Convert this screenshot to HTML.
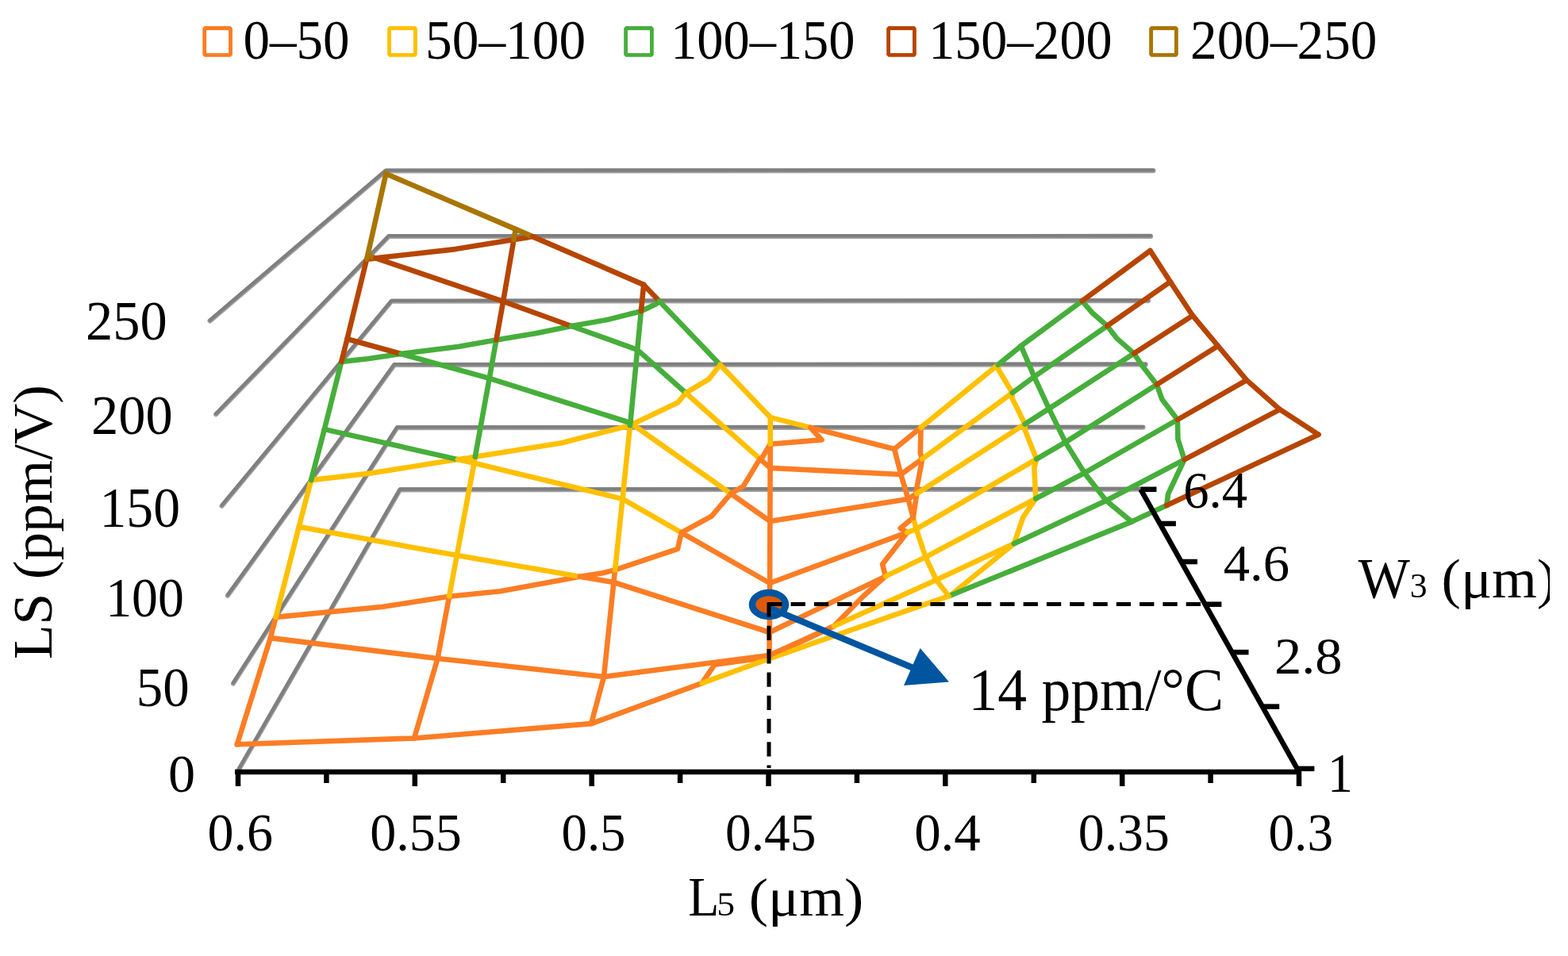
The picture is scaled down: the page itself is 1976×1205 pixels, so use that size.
<!DOCTYPE html>
<html><head><meta charset="utf-8"><title>LS surface</title>
<style>html,body{margin:0;padding:0;background:#fff;width:1976px;height:1205px;overflow:hidden}svg{display:block}</style>
</head><body>
<svg width="1976" height="1205" viewBox="0 0 1976 1205">
<defs><clipPath id="clipW"><rect x="1700" y="650" width="253" height="150"/></clipPath></defs>
<g fill="none" stroke="#A2A2A2" stroke-width="6" stroke-linecap="round" stroke-linejoin="round">
<polyline points="300.9,970.2 504.0,617.4 1437.5,616.8"/>
<polyline points="293.9,861.6 500.5,539.2 1440.6,538.7"/>
<polyline points="286.8,750.9 497.0,460.0 1443.8,459.6"/>
<polyline points="279.5,637.8 493.5,379.7 1447.0,379.3"/>
<polyline points="272.1,522.4 489.9,298.1 1450.2,297.9"/>
<polyline points="264.5,404.6 486.2,215.5 1453.5,215.2"/>
</g>
<g fill="none" stroke="#7F7F7F" stroke-width="4.3" stroke-linecap="round" stroke-linejoin="round" transform="translate(0,-0.9)">
<polyline points="300.9,970.2 504.0,617.4 1437.5,616.8"/>
<polyline points="293.9,861.6 500.5,539.2 1440.6,538.7"/>
<polyline points="286.8,750.9 497.0,460.0 1443.8,459.6"/>
<polyline points="279.5,637.8 493.5,379.7 1447.0,379.3"/>
<polyline points="272.1,522.4 489.9,298.1 1450.2,297.9"/>
<polyline points="264.5,404.6 486.2,215.5 1453.5,215.2"/>
</g>
<g fill="none" stroke-width="6.6" stroke-linecap="round" stroke-linejoin="round">
<polyline points="1021.2,539.0 1035.6,554.4 970.7,559.7 961.0,576.0 957.6,578.4 936.5,613.2 921.0,622.2 896.7,650.6 858.7,671.3 854.0,691.9 775.0,718.4 759.7,722.3 730.9,726.7 630.5,745.2 566.1,751.7 482.8,764.8 347.6,777.9" stroke="#FC7D24"/>
<polyline points="884.5,861.1 900.7,837.7 969.0,828.3 1050.8,789.2 1088.2,751.2 1116.0,726.4 1112.0,711.2 1143.2,671.1 1134.7,665.8 1150.8,652.6 1155.3,622.1 1154.5,619.3 1162.3,578.3 1159.8,571.8 1160.5,538.9" stroke="#FC7D24"/>
<polyline points="907.5,459.8 893.3,477.9 864.2,495.3 854.5,507.3 796.9,534.8 796.3,535.3 794.0,536.3 706.7,558.5 598.8,575.8 590.8,577.3 576.9,579.1 467.0,596.5 392.1,605.1" stroke="#FFC000"/>
<polyline points="1198.4,750.2 1199.7,748.8 1277.9,685.2 1289.3,651.9 1305.3,628.5 1303.3,589.8 1306.2,578.7 1291.8,542.4 1291.6,534.5 1275.5,501.9 1275.8,495.1 1258.5,466.2 1257.7,459.6" stroke="#FFC000"/>
<polyline points="830.8,379.5 827.6,382.7 807.9,392.2 765.0,403.1 720.0,410.9 676.1,420.1 625.4,428.4 577.1,436.9 505.4,446.0 463.1,452.3 430.3,455.9" stroke="#46AE3B"/>
<polyline points="1470.2,637.0 1472.1,622.7 1492.5,579.3 1484.4,553.5 1483.9,529.0 1464.3,503.2 1457.8,484.8 1439.4,461.0 1429.1,445.6 1407.0,426.1 1395.3,410.7 1377.0,394.8 1363.6,379.3" stroke="#46AE3B"/>
<polyline points="671.0,298.1 661.1,300.1 647.5,302.0 573.7,314.1 473.4,325.4 467.5,326.2 462.1,326.7" stroke="#B64500"/>
<polyline points="298.8,938.3 522.0,930.5 745.1,912.1 884.5,861.1" stroke="#FC7D24"/>
<polyline points="884.5,861.1 968.8,830.3 1195.6,751.3 1198.4,750.2" stroke="#FFC000"/>
<polyline points="1198.4,750.2 1426.2,657.6 1470.2,637.0" stroke="#46AE3B"/>
<polyline points="1470.2,637.0 1661.5,547.7" stroke="#B64500"/>
<polyline points="340.8,804.1 551.5,830.0 761.0,853.0 969.4,825.9 1050.9,789.2" stroke="#FC7D24"/>
<polyline points="1050.9,789.2 1179.9,731.0 1277.9,685.2" stroke="#FFC000"/>
<polyline points="1277.9,685.2 1394.0,631.0 1492.5,579.3" stroke="#46AE3B"/>
<polyline points="1492.5,579.3 1612.8,516.1" stroke="#B64500"/>
<polyline points="376.7,664.1 575.8,700.0 730.8,726.7" stroke="#FFC000"/>
<polyline points="730.8,726.7 773.4,734.0 969.8,797.0 1116.0,726.4" stroke="#FC7D24"/>
<polyline points="1116.0,726.4 1166.4,702.1 1305.3,628.5" stroke="#FFC000"/>
<polyline points="1305.3,628.5 1366.6,596.1 1483.9,529.0" stroke="#46AE3B"/>
<polyline points="1483.9,529.0 1571.0,479.1" stroke="#B64500"/>
<polyline points="408.8,541.1 576.9,579.1" stroke="#46AE3B"/>
<polyline points="576.9,579.1 597.4,583.8 784.5,628.9 858.7,671.3" stroke="#FFC000"/>
<polyline points="858.7,671.3 970.1,735.0 1143.2,671.1" stroke="#FC7D24"/>
<polyline points="1143.2,671.1 1154.7,666.9 1306.2,578.7" stroke="#FFC000"/>
<polyline points="1306.2,578.7 1342.7,557.4 1457.8,484.8" stroke="#46AE3B"/>
<polyline points="1457.8,484.8 1534.9,436.0" stroke="#B64500"/>
<polyline points="437.5,427.2 505.4,446.0" stroke="#B64500"/>
<polyline points="505.4,446.0 616.7,476.9 794.4,533.0 796.9,534.8" stroke="#46AE3B"/>
<polyline points="796.9,534.8 921.0,622.2" stroke="#FFC000"/>
<polyline points="921.0,622.2 970.4,657.0 1144.5,629.0 1155.3,622.1" stroke="#FC7D24"/>
<polyline points="1155.3,622.1 1291.6,534.5" stroke="#FFC000"/>
<polyline points="1291.6,534.5 1321.9,515.1 1429.1,445.6" stroke="#46AE3B"/>
<polyline points="1429.1,445.6 1502.9,397.7" stroke="#B64500"/>
<polyline points="463.3,321.9 473.5,325.3" stroke="#A87500"/>
<polyline points="473.5,325.3 634.1,379.9 720.0,411.0" stroke="#B64500"/>
<polyline points="720.0,411.0 803.2,440.9 864.2,495.3" stroke="#46AE3B"/>
<polyline points="864.2,495.3 957.6,578.4" stroke="#FFC000"/>
<polyline points="957.6,578.4 970.6,589.9 1135.3,598.0 1162.3,578.3" stroke="#FC7D24"/>
<polyline points="1162.3,578.3 1275.8,495.1" stroke="#FFC000"/>
<polyline points="1275.8,495.1 1303.3,474.9 1395.3,410.7" stroke="#46AE3B"/>
<polyline points="1395.3,410.7 1474.8,355.1" stroke="#B64500"/>
<polyline points="486.4,219.0 649.8,288.9 671.0,298.1" stroke="#A87500"/>
<polyline points="671.0,298.1 811.2,358.9 830.8,379.5" stroke="#B64500"/>
<polyline points="830.8,379.5 907.5,459.8" stroke="#46AE3B"/>
<polyline points="907.5,459.8 970.8,526.1 1021.2,538.9" stroke="#FFC000"/>
<polyline points="1021.2,538.9 1127.1,566.0 1160.5,538.9" stroke="#FC7D24"/>
<polyline points="1160.5,538.9 1257.7,459.7" stroke="#FFC000"/>
<polyline points="1257.7,459.7 1286.7,436.0 1363.6,379.3" stroke="#46AE3B"/>
<polyline points="1363.6,379.3 1449.5,316.0" stroke="#B64500"/>
<polyline points="298.8,938.3 340.8,804.1 347.6,777.9" stroke="#FC7D24"/>
<polyline points="347.6,777.9 376.7,664.1 392.1,605.1" stroke="#FFC000"/>
<polyline points="392.1,605.1 408.8,541.1 430.3,455.9" stroke="#46AE3B"/>
<polyline points="430.3,455.9 437.5,427.2 462.1,326.7" stroke="#B64500"/>
<polyline points="462.1,326.7 463.3,321.9 486.4,219.0" stroke="#A87500"/>
<polyline points="522.0,930.5 551.5,830.0 566.1,751.7" stroke="#FC7D24"/>
<polyline points="566.1,751.7 575.8,700.0 597.4,583.8 598.8,575.8" stroke="#FFC000"/>
<polyline points="598.8,575.8 616.7,476.9 625.4,428.4" stroke="#46AE3B"/>
<polyline points="625.4,428.4 634.1,379.9 647.5,302.0" stroke="#B64500"/>
<polyline points="647.5,302.0 649.8,288.9" stroke="#A87500"/>
<polyline points="745.1,912.1 761.0,853.0 773.4,734.0 775.1,718.4" stroke="#FC7D24"/>
<polyline points="775.1,718.4 784.5,628.9 794.0,536.3" stroke="#FFC000"/>
<polyline points="794.0,536.3 794.4,533.0 803.2,440.9 807.9,392.2" stroke="#46AE3B"/>
<polyline points="807.9,392.2 811.2,358.9" stroke="#B64500"/>
<polyline points="968.8,830.3 969.1,828.3" stroke="#FFC000"/>
<polyline points="969.1,828.3 969.4,825.9 969.8,797.0 970.1,735.0 970.4,657.0 970.6,589.9 970.7,559.7" stroke="#FC7D24"/>
<polyline points="970.7,559.7 970.8,526.1" stroke="#FFC000"/>
<polyline points="1195.6,751.3 1179.9,731.0 1166.4,702.1 1154.7,666.9 1150.8,652.6" stroke="#FFC000"/>
<polyline points="1150.8,652.6 1144.5,629.0 1135.3,598.0 1127.1,566.0" stroke="#FC7D24"/>
<polyline points="1426.2,657.6 1394.0,631.0 1366.6,596.1 1342.7,557.4 1321.9,515.1 1303.3,474.9 1286.7,436.0" stroke="#46AE3B"/>
<polyline points="1661.5,547.7 1612.8,516.1 1571.0,479.1 1534.9,436.0 1502.9,397.7 1474.8,355.1 1449.5,316.0" stroke="#B64500"/>
</g>
<g stroke="#000" stroke-width="6.5" fill="none">
<line x1="296" y1="973" x2="1640" y2="973"/>
<line x1="300.0" y1="973" x2="300.0" y2="991"/>
<line x1="411.4" y1="973" x2="411.4" y2="987"/>
<line x1="522.8" y1="973" x2="522.8" y2="991"/>
<line x1="634.2" y1="973" x2="634.2" y2="987"/>
<line x1="745.7" y1="973" x2="745.7" y2="991"/>
<line x1="857.1" y1="973" x2="857.1" y2="987"/>
<line x1="968.5" y1="973" x2="968.5" y2="991"/>
<line x1="1079.9" y1="973" x2="1079.9" y2="987"/>
<line x1="1191.3" y1="973" x2="1191.3" y2="991"/>
<line x1="1302.8" y1="973" x2="1302.8" y2="987"/>
<line x1="1414.2" y1="973" x2="1414.2" y2="991"/>
<line x1="1525.6" y1="973" x2="1525.6" y2="987"/>
<line x1="1637.0" y1="973" x2="1637.0" y2="991"/>
<line x1="1636.4" y1="971.9" x2="1437.5" y2="616.8"/>
<line x1="1636.4" y1="968.9" x2="1656.4" y2="968.9"/>
<line x1="1592.2" y1="890.6" x2="1612.2" y2="890.6"/>
<line x1="1553.5" y1="822.1" x2="1573.5" y2="822.1"/>
<line x1="1519.4" y1="761.7" x2="1539.4" y2="761.7"/>
<line x1="1489.0" y1="708.0" x2="1509.0" y2="708.0"/>
<line x1="1461.9" y1="660.0" x2="1481.9" y2="660.0"/>
<line x1="1437.5" y1="616.8" x2="1457.5" y2="616.8"/>
</g>
<ellipse cx="969" cy="762" rx="21" ry="15" fill="#DC5A0A" stroke="#0055A0" stroke-width="8.5"/>
<line x1="969" y1="766" x2="1163" y2="847" stroke="#0055A0" stroke-width="8"/>
<polygon points="1159.6,817 1196,859.5 1139,864" fill="#0055A0"/>
<g stroke="#000" stroke-width="5" fill="none" stroke-dasharray="18.3 11"><line x1="967.3" y1="761.5" x2="1520" y2="761.5"/><line x1="969" y1="759.5" x2="969" y2="968"/></g>
<rect x="257.7" y="35.5" width="32.8" height="33.8" fill="none" stroke="#FC7D24" stroke-width="4.8" stroke-linejoin="bevel"/>
<rect x="490.6" y="35.5" width="32.8" height="33.8" fill="none" stroke="#FFC000" stroke-width="4.8" stroke-linejoin="bevel"/>
<rect x="788.6" y="35.5" width="32.8" height="33.8" fill="none" stroke="#46AE3B" stroke-width="4.8" stroke-linejoin="bevel"/>
<rect x="1119.6" y="35.5" width="32.8" height="33.8" fill="none" stroke="#B64500" stroke-width="4.8" stroke-linejoin="bevel"/>
<rect x="1450.6" y="35.5" width="31.8" height="33.8" fill="none" stroke="#A87500" stroke-width="4.8" stroke-linejoin="bevel"/>
<g font-family="Liberation Serif, serif" fill="#000">
<text transform="translate(306.45,73.73) scale(0.670538,0.687606)" font-size="100" >0–50</text>
<text transform="translate(536.09,73.73) scale(0.673598,0.687606)" font-size="100" >50–100</text>
<text transform="translate(845.16,73.73) scale(0.663896,0.687606)" font-size="100" >100–150</text>
<text transform="translate(1170.19,73.73) scale(0.660932,0.687606)" font-size="100" >150–200</text>
<text transform="translate(1500.04,73.73) scale(0.672914,0.687606)" font-size="100" >200–250</text>
<text transform="translate(107.99,428.32) scale(0.684077,0.696498)" font-size="100" >250</text>
<text transform="translate(114.99,547.32) scale(0.684077,0.696498)" font-size="100" >200</text>
<text transform="translate(125.56,664.00) scale(0.676117,0.712799)" font-size="100" >150</text>
<text transform="translate(133.22,776.93) scale(0.657922,0.690570)" font-size="100" >100</text>
<text transform="translate(171.72,889.83) scale(0.668283,0.689088)" font-size="100" >50</text>
<text transform="translate(211.90,997.63) scale(0.681880,0.686124)" font-size="100" >0</text>
<text transform="translate(261.49,1072.04) scale(0.659827,0.677268)" font-size="100" >0.6</text>
<text transform="translate(466.29,1072.04) scale(0.659951,0.677268)" font-size="100" >0.55</text>
<text transform="translate(707.53,1072.04) scale(0.647993,0.677268)" font-size="100" >0.5</text>
<text transform="translate(914.01,1072.04) scale(0.654571,0.677268)" font-size="100" >0.45</text>
<text transform="translate(1152.15,1072.04) scale(0.669571,0.677268)" font-size="100" >0.4</text>
<text transform="translate(1358.80,1072.04) scale(0.657560,0.677268)" font-size="100" >0.35</text>
<text transform="translate(1598.52,1072.04) scale(0.652256,0.677268)" font-size="100" >0.3</text>
<text transform="translate(1491.22,640.06) scale(0.646295,0.665415)" font-size="100" >6.4</text>
<text transform="translate(1541.70,732.06) scale(0.666287,0.665415)" font-size="100" >4.6</text>
<text transform="translate(1605.99,849.06) scale(0.684950,0.662545)" font-size="100" >2.8</text>
<text transform="translate(1672.88,998.00) scale(0.639112,0.696805)" font-size="100" >1</text>
<text transform="translate(1220.54,895.21) scale(0.735313,0.769993)" font-size="100" >14 ppm/°C</text>
<text transform="translate(867.16,1154.00) scale(0.639880,0.687000)" font-size="100" >L</text>
<text transform="translate(903.35,1154.00) scale(0.456766,0.420000)" font-size="100" >5</text>
<text transform="translate(943.79,1154.00) scale(0.729352,0.687000)" font-size="100" >(μm)</text>
<text transform="translate(1711.83,752.80) scale(0.689752,0.710000)" font-size="100" >W</text>
<text transform="translate(1776.80,752.80) scale(0.438165,0.444000)" font-size="100" >3</text>
<g clip-path="url(#clipW)"><text transform="translate(1816.59,752.80) scale(0.730409,0.690000)" font-size="100" >(μm)</text></g>
<text transform="translate(65.40,831.05) rotate(-90) scale(0.712184,0.698000)" font-size="100">LS (ppm/V)</text>
</g>
</svg>
</body></html>
